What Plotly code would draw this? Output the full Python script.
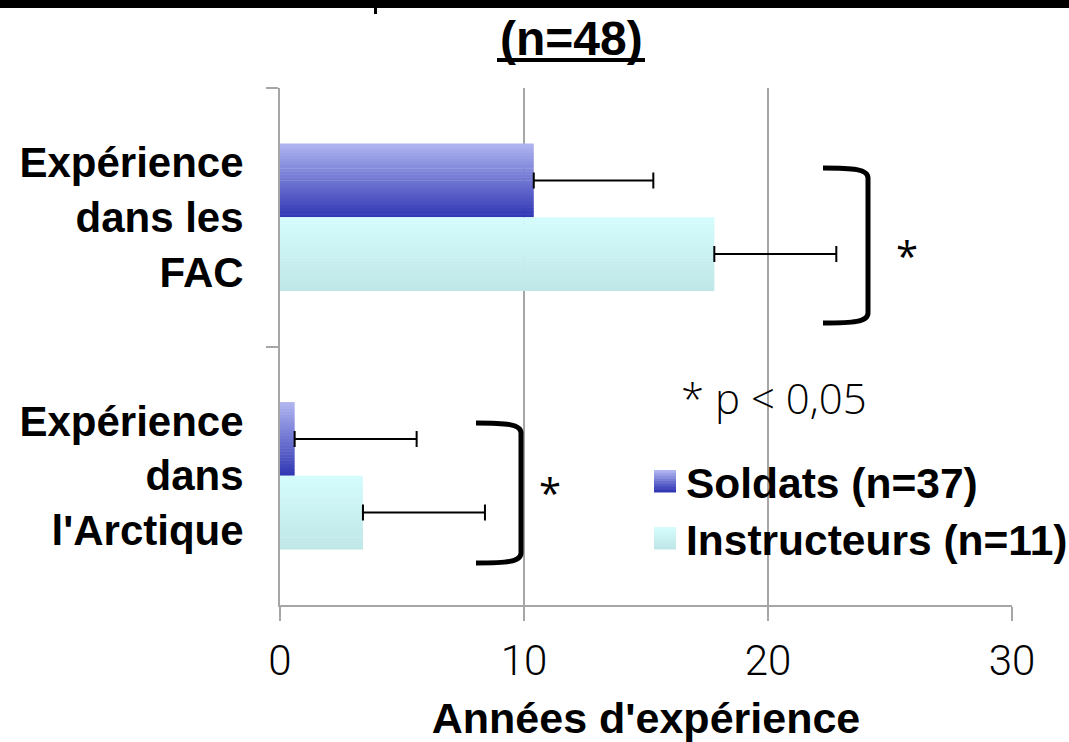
import plotly.graph_objects as go

# ---------------- data ----------------
categories = ["Expérience<br>dans les<br>FAC", "Expérience<br>dans<br>l'Arctique"]
series_names = ["Soldats (n=37)", "Instructeurs (n=11)"]
soldats_mean = [10.4, 0.6]
soldats_sd = [4.9, 5.0]
instructeurs_mean = [17.8, 3.4]
instructeurs_sd = [5.0, 5.0]
x_ticks = [0, 10, 20, 30]
title_text = "(n=48)"
x_title = "Années d'expérience"
p_note = "* p < 0,05"

# ---------------- styling ----------------
W, H = 1069, 742
# plot area in screen pixels
SX0, SX1, SY0, SY1 = 280, 1012, 88, 605
ML, MT = SX0, SY0
MR, MB = W - SX1, H - SY1
PW, PH = SX1 - SX0, SY1 - SY0

def px_x(sx):
    return (sx - SX0) / PW

def px_y(sy):
    return (SY1 - sy) / PH

def lerp_color(c1, c2, t):
    a = [int(c1[i:i + 2], 16) for i in (1, 3, 5)]
    b = [int(c2[i:i + 2], 16) for i in (1, 3, 5)]
    return "rgb(%d,%d,%d)" % tuple(round(a[k] + (b[k] - a[k]) * t) for k in range(3))

grad = {
    0: ("#aeb3f0", "#3239b4"),
    1: ("#d5fcfd", "#bfe7e8"),
}
BW = 0.285
NSTRIP = 24
BOLD = "Liberation Sans, Arial, sans-serif"
LIGHT = "Roboto, Open Sans, sans-serif"
FS = 42

fig = go.Figure()

series = [(soldats_mean, soldats_sd, -BW), (instructeurs_mean, instructeurs_sd, 0.0)]
for si, (means, sds, base) in enumerate(series):
    top, bot = grad[si]
    for i in range(NSTRIP):
        t = i / (NSTRIP - 1)
        w = BW / NSTRIP
        fig.add_trace(go.Bar(
            x=means, y=categories, orientation="h",
            offset=base + i * w, width=w * (1.15 if i < NSTRIP - 1 else 1.0),
            marker=dict(color=lerp_color(top, bot, t), line=dict(width=0)),
            showlegend=False, hoverinfo="skip", name=series_names[si],
        ))
for si, (means, sds, base) in enumerate(series):
    fig.add_trace(go.Bar(
        x=means, y=categories, orientation="h", offset=base, width=BW,
        marker=dict(color="rgba(0,0,0,0)", line=dict(width=0)),
        error_x=dict(type="data", array=sds, arrayminus=[0] * len(sds), symmetric=False,
                     color="black", thickness=2, width=8),
        showlegend=False, name=series_names[si],
    ))

shapes = []
# top black band (cropped slide header)
shapes.append(dict(type="rect", xref="paper", yref="paper",
                   x0=px_x(-5), x1=px_x(W + 5), y0=px_y(-5), y1=px_y(8),
                   fillcolor="black", line=dict(width=0), layer="above"))
shapes.append(dict(type="rect", xref="paper", yref="paper",
                   x0=px_x(374), x1=px_x(377), y0=px_y(8), y1=px_y(14),
                   fillcolor="black", line=dict(width=0), layer="above"))
# title underline
shapes.append(dict(type="line", xref="paper", yref="paper",
                   x0=px_x(497), x1=px_x(645), y0=px_y(60), y1=px_y(60),
                   line=dict(color="black", width=4)))

def bracket(xl, xr, yt, yb):
    p = lambda x, y: "%f,%f" % (px_x(x), px_y(y))
    return ("M " + p(xl, yt) + " C " + p(xr - 15, yt) + " " + p(xr, yt + 1) + " " + p(xr, yt + 10)
            + " L " + p(xr, yb - 10) + " C " + p(xr, yb - 1) + " " + p(xr - 15, yb) + " " + p(xl, yb))

shapes.append(dict(type="path", xref="paper", yref="paper", path=bracket(823, 868, 168, 323),
                   line=dict(color="black", width=5)))
shapes.append(dict(type="path", xref="paper", yref="paper", path=bracket(476, 521, 423, 563),
                   line=dict(color="black", width=5)))

# manual legend squares with gradient
leg_rows = [(470, 492), (527, 549)]
for si, (y0, y1) in enumerate(leg_rows):
    top, bot = grad[si]
    n = 8
    for i in range(n):
        ya = y0 + (y1 - y0) * i / n
        yb = y0 + (y1 - y0) * (i + 1) / n
        shapes.append(dict(type="rect", xref="paper", yref="paper",
                           x0=px_x(654), x1=px_x(676), y0=px_y(ya), y1=px_y(yb + 0.5),
                           fillcolor=lerp_color(top, bot, i / (n - 1)), line=dict(width=0)))

annotations = [
    dict(text="<b>" + title_text + "</b>", xref="paper", yref="paper",
         x=px_x(571), y=px_y(38), xanchor="center", yanchor="middle", showarrow=False,
         font=dict(family=BOLD, size=48, color="black")),
    dict(text="*", xref="paper", yref="paper", x=px_x(907), y=px_y(255),
         xanchor="center", yanchor="middle", showarrow=False,
         font=dict(family="Open Sans", size=40, color="black")),
    dict(text="*", xref="paper", yref="paper", x=px_x(550), y=px_y(492),
         xanchor="center", yanchor="middle", showarrow=False,
         font=dict(family="Open Sans", size=40, color="black")),
    dict(text=p_note, xref="paper", yref="paper", x=px_x(774), y=px_y(397),
         xanchor="center", yanchor="middle", showarrow=False,
         font=dict(family="Open Sans", size=42, color="black", weight=300)),
]
for si, yc in enumerate([483, 540]):
    annotations.append(dict(text="<b>" + series_names[si] + "</b>", xref="paper", yref="paper",
                            x=px_x(684), y=px_y(yc), xanchor="left", yanchor="middle",
                            showarrow=False, font=dict(family=BOLD, size=42.5, color="black")))

fig.update_layout(
    width=W, height=H, autosize=False,
    margin=dict(l=ML, r=MR, t=MT, b=MB, pad=0, autoexpand=False),
    paper_bgcolor="white", plot_bgcolor="white",
    barmode="overlay", showlegend=False,
    shapes=shapes, annotations=annotations,
    xaxis=dict(range=[0, 30], tickvals=x_ticks, showgrid=True, gridcolor="#a6a6a6", gridwidth=2,
               zeroline=False, showline=True, linecolor="#a6a6a6", linewidth=2,
               ticks="outside", ticklen=14, tickwidth=2, tickcolor="#a6a6a6",
               tickfont=dict(family=LIGHT, size=42, color="black", weight=300),
               ticklabelstandoff=4, automargin=False,
               title=dict(text="<b>" + x_title + "</b>", standoff=19,
                          font=dict(family=BOLD, size=43, color="black"))),
    yaxis=dict(type="category", categoryorder="array", categoryarray=categories,
               range=[1.5, -0.5], showgrid=False, zeroline=False,
               showline=True, linecolor="#a6a6a6", linewidth=2,
               ticks="outside", tickson="boundaries", ticklen=12, tickwidth=2, tickcolor="#a6a6a6",
               tickfont=dict(family=BOLD, size=FS, color="black", weight="bold"),
               ticklabelstandoff=26, automargin=False),
)

fig.write_html("out.html", config={"displayModeBar": False},
               post_script="document.body.style.margin='0';")
